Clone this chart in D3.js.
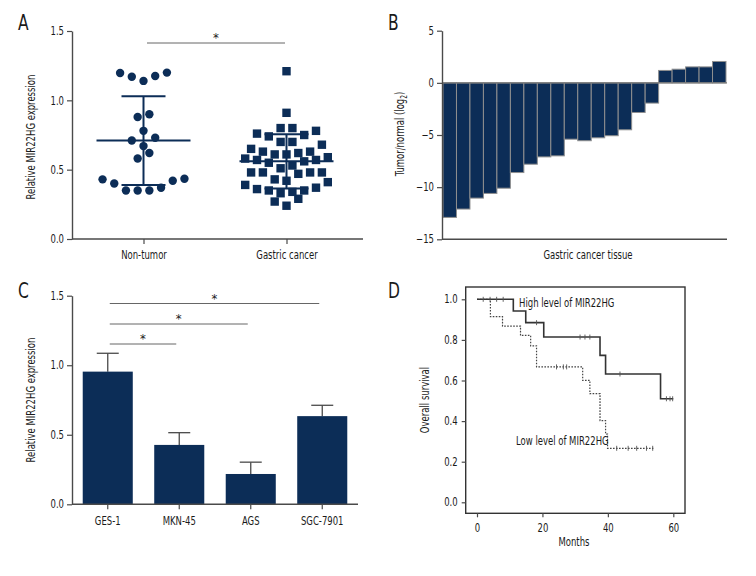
<!DOCTYPE html>
<html>
<head>
<meta charset="utf-8">
<script src="https://cdn.jsdelivr.net/npm/d3@7"></script>
<style>
  body { margin: 0; background: #fff; }
  svg text { font-family: "Liberation Sans Narrow", "DejaVu Sans Condensed", "Arial Narrow", sans-serif; fill: #1a1a1a; }
</style>
</head>
<body>
<svg id="fig" width="756" height="576"></svg>
<script>
// ---- data ----
// A: scatter of relative expression
const groupNames = ['Non-tumor', 'Gastric cancer'];
const nonTumor = [1.197, 1.17, 1.14, 1.175, 1.20, 0.88, 0.90, 0.78, 0.73, 0.71, 0.67, 0.62, 0.58,
  0.435, 0.40, 0.35, 0.35, 0.35, 0.37, 0.42, 0.43];
const gastric = [1.21, 0.91, 0.80, 0.78, 0.80, 0.75, 0.74, 0.76, 0.70, 0.68, 0.70, 0.63, 0.61, 0.63,
  0.65, 0.62, 0.61, 0.59, 0.57, 0.57, 0.55, 0.56, 0.58, 0.51, 0.48, 0.48, 0.47, 0.48, 0.48, 0.53,
  0.41, 0.43, 0.42, 0.39, 0.37, 0.35, 0.34, 0.33, 0.35, 0.36, 0.29, 0.27, 0.24];
const groupMean = [0.71, 0.56];
const groupSd = [0.32, 0.195];

// B: per-tissue fold change (log2)
const foldChange = [-12.9, -12.1, -11.05, -10.6, -10.1, -8.6, -7.8, -7.1, -7.0, -5.4, -5.55, -5.27,
  -5.07, -4.5, -2.84, -1.94, 1.19, 1.31, 1.53, 1.53, 2.05];

// C: cell lines
const cellLines = ['GES-1', 'MKN-45', 'AGS', 'SGC-7901'];
const cellMean = [0.954, 0.427, 0.218, 0.634];
const cellSd = [0.132, 0.088, 0.085, 0.078];
const cellPairs = [[0, 1], [0, 2], [0, 3]];

// D: Kaplan-Meier
const highMonths = [0, 11.1, 14.9, 20.4, 37.6, 39.3, 56.1];
const highSurv = [1, 0.942, 0.885, 0.814, 0.724, 0.632, 0.51];
const highEnd = 60;
const highCensor = [1.9, 4, 6, 8, 18.2, 31.5, 33, 34.5, 43.7, 57.9, 59, 59.8];
const lowMonths = [0, 4.1, 7.8, 13.3, 16.4, 18.2, 32.3, 34.5, 37.6, 39.3, 39.9];
const lowSurv = [1, 0.915, 0.868, 0.822, 0.771, 0.667, 0.601, 0.535, 0.402, 0.336, 0.266];
const lowEnd = 53.9;
const lowCensor = [24.3, 26.4, 27.4, 42.7, 46.2, 48.8, 51.8, 53.7];

// ---- styles ----
const NAVY = '#0c2d57';
const AXIS = '#4a4a4a';
const FS = 11.5;

const svg = d3.select('#fig');
svg.append('rect').attr('width', 756).attr('height', 576).attr('fill', '#fff');

function styleAxis(g) {
  g.select('.domain').attr('stroke', AXIS).attr('stroke-width', 1.4);
  g.selectAll('.tick line').attr('stroke', AXIS).attr('stroke-width', 1.2);
  g.selectAll('.tick text').attr('font-size', FS).attr('fill', '#1a1a1a');
}

function panelLetter(t, x, y) {
  svg.append('text').attr('class', 'letter').attr('x', x).attr('y', y).attr('font-size', 21).text(t);
}

function yLabel(g, x, y, txt) {
  return g.append('text').attr('transform', `translate(${x},${y}) rotate(-90)`)
    .attr('text-anchor', 'middle').attr('font-size', FS).text(txt);
}

function sigBar(g, x1, x2, y) {
  g.append('line').attr('x1', x1).attr('x2', x2).attr('y1', y).attr('y2', y)
    .attr('stroke', '#666').attr('stroke-width', 1);
  g.append('text').attr('class', 'star').attr('x', (x1 + x2) / 2).attr('y', y - 1).attr('text-anchor', 'middle')
    .attr('font-size', 13).text('*');
}

// the original uses a very narrow face, so squeeze the installed condensed one
function condense(sel, k) {
  sel.each(function () {
    const w = this.getComputedTextLength();
    d3.select(this).attr('textLength', w * k).attr('lengthAdjust', 'spacingAndGlyphs');
  });
}

// simple graphpad-like swarm: rows by value, spread out from the centre
function swarm(values, yScale, cx, rowH, gap) {
  const pts = values.map(v => ({ v, y: yScale(v) })).sort((a, b) => b.y - a.y);
  const rows = [];
  let cur = null;
  for (const p of pts) {
    if (!cur || cur[0].y - p.y > rowH) { cur = [p]; rows.push(cur); }
    else cur.push(p);
  }
  rows.forEach(row => {
    const n = row.length;
    const slots = d3.range(n).map(i => (i - (n - 1) / 2) * gap)
      .sort((a, b) => Math.abs(a) - Math.abs(b) || a - b);
    row.forEach((p, i) => { p.x = cx + slots[i]; });
  });
  return pts;
}

// ================= A =================
panelLetter('A', 18, 30);
const gA = svg.append('g');
const yA = d3.scaleLinear().domain([0, 1.5]).range([239, 31]);
const xA = d3.scalePoint().domain(groupNames).range([72, 358]).padding(0.5);

gA.append('g').attr('transform', 'translate(72,0)')
  .call(d3.axisLeft(yA).tickValues([0, 0.5, 1, 1.5]).tickFormat(d3.format('.1f')).tickSize(5).tickSizeOuter(0))
  .call(styleAxis);
gA.append('line').attr('x1', 72).attr('x2', 363).attr('y1', yA(0)).attr('y2', yA(0))
  .attr('stroke', AXIS).attr('stroke-width', 1.4);
gA.append('g').attr('transform', `translate(0,${yA(0)})`)
  .call(d3.axisBottom(xA).tickSize(5).tickPadding(7))
  .call(g => g.select('.domain').remove())
  .call(styleAxis);
yLabel(gA, 35, 137, 'Relative MIR22HG expression');

const ntPts = swarm(nonTumor, yA, xA(groupNames[0]), 12, 11.7);
gA.selectAll('circle.nt').data(ntPts).join('circle').attr('class', 'nt')
  .attr('cx', d => d.x).attr('cy', d => d.y).attr('r', 4.2).attr('fill', NAVY);
const gcPts = swarm(gastric, yA, xA(groupNames[1]), 12, 11.8);
gA.selectAll('rect.gc').data(gcPts).join('rect').attr('class', 'gc')
  .attr('x', d => d.x - 4.2).attr('y', d => d.y - 4.2).attr('width', 8.4).attr('height', 8.4).attr('fill', NAVY);

groupNames.forEach((name, i) => {
  const cx = xA(name);
  const m = groupMean[i], s = groupSd[i];
  const eb = gA.append('g').attr('stroke', NAVY).attr('stroke-width', 2);
  eb.append('line').attr('x1', cx - 47).attr('x2', cx + 47).attr('y1', yA(m)).attr('y2', yA(m));
  eb.append('line').attr('x1', cx).attr('x2', cx).attr('y1', yA(m - s)).attr('y2', yA(m + s));
  [m - s, m + s].forEach(v => eb.append('line').attr('x1', cx - 22).attr('x2', cx + 22)
    .attr('y1', yA(v)).attr('y2', yA(v)));
});
sigBar(gA, 147, 285, 43);

// ================= B =================
panelLetter('B', 388, 30);
const gB = svg.append('g');
const yB = d3.scaleLinear().domain([-15, 5]).range([239.3, 30.7]);
const xB = d3.scaleBand().domain(d3.range(foldChange.length)).range([443, 726]).padding(0);

gB.selectAll('rect').data(foldChange).join('rect')
  .attr('x', (d, i) => xB(i)).attr('width', xB.bandwidth())
  .attr('y', d => yB(Math.max(0, d))).attr('height', d => Math.abs(yB(d) - yB(0)))
  .attr('fill', NAVY).attr('stroke', '#8f8f8f').attr('stroke-width', 1);
gB.append('line').attr('x1', 442).attr('x2', 727).attr('y1', yB(0)).attr('y2', yB(0))
  .attr('stroke', '#777').attr('stroke-width', 1.2);
gB.append('line').attr('x1', 442).attr('x2', 727).attr('y1', yB(-15)).attr('y2', yB(-15))
  .attr('stroke', AXIS).attr('stroke-width', 1.4);
gB.append('g').attr('transform', 'translate(442,0)')
  .call(d3.axisLeft(yB).tickValues([-15, -10, -5, 0, 5]).tickSize(5).tickSizeOuter(0))
  .call(styleAxis);
const lb = gB.append('text').attr('transform', 'translate(404,134) rotate(-90)')
  .attr('text-anchor', 'middle').attr('font-size', FS);
lb.append('tspan').text('Tumor/normal (log');
lb.append('tspan').attr('font-size', 8).attr('dy', 3).text('2');
lb.append('tspan').attr('dy', -3).text(')');
gB.append('text').attr('x', 588).attr('y', 259).attr('text-anchor', 'middle')
  .attr('font-size', FS).text('Gastric cancer tissue');

// ================= C =================
panelLetter('C', 18, 298);
const gC = svg.append('g');
const yC = d3.scaleLinear().domain([0, 1.5]).range([504.3, 295.7]);
const xC = d3.scaleBand().domain(cellLines).range([72, 358]).paddingInner(0.3).paddingOuter(0.15);

cellLines.forEach((c, i) => {
  const cx = xC(c) + xC.bandwidth() / 2;
  const top = yC(cellMean[i] + cellSd[i]);
  gC.append('line').attr('x1', cx).attr('x2', cx).attr('y1', yC(cellMean[i])).attr('y2', top)
    .attr('stroke', AXIS).attr('stroke-width', 1.3);
  gC.append('line').attr('x1', cx - 11).attr('x2', cx + 11).attr('y1', top).attr('y2', top)
    .attr('stroke', AXIS).attr('stroke-width', 1.3);
});
gC.selectAll('rect').data(cellMean).join('rect')
  .attr('x', (d, i) => xC(cellLines[i])).attr('width', xC.bandwidth())
  .attr('y', d => yC(d)).attr('height', d => yC(0) - yC(d)).attr('fill', NAVY);

gC.append('g').attr('transform', 'translate(72,0)')
  .call(d3.axisLeft(yC).tickValues([0, 0.5, 1, 1.5]).tickFormat(d3.format('.1f')).tickSize(5).tickSizeOuter(0))
  .call(styleAxis);
gC.append('line').attr('x1', 72).attr('x2', 358).attr('y1', yC(0)).attr('y2', yC(0))
  .attr('stroke', AXIS).attr('stroke-width', 1.4);
gC.append('g').attr('transform', `translate(0,${yC(0)})`)
  .call(d3.axisBottom(xC).tickSize(5).tickPadding(8))
  .call(g => g.select('.domain').remove())
  .call(styleAxis);
yLabel(gC, 35, 400, 'Relative MIR22HG expression');

const sigY = [344, 324, 303.5];
cellPairs.forEach(([a, b], k) => {
  const x1 = xC(cellLines[a]) + xC.bandwidth() / 2 + 2;
  const x2 = xC(cellLines[b]) + xC.bandwidth() / 2 - 3;
  sigBar(gC, x1, x2, sigY[k]);
});

// ================= D =================
panelLetter('D', 388, 298);
const gD = svg.append('g');
const xD = d3.scaleLinear().domain([0, 60]).range([477, 673.3]);
const yD = d3.scaleLinear().domain([0, 1]).range([502.3, 299.3]);
const frame = { x0: 465.7, x1: 685, y0: 287, y1: 513.3 };

gD.append('rect').attr('x', frame.x0).attr('y', frame.y0)
  .attr('width', frame.x1 - frame.x0).attr('height', frame.y1 - frame.y0)
  .attr('fill', 'none').attr('stroke', '#333').attr('stroke-width', 1.4);
gD.append('g').attr('transform', `translate(${frame.x0},0)`)
  .call(d3.axisLeft(yD).tickValues([0, 0.2, 0.4, 0.6, 0.8, 1]).tickFormat(d3.format('.1f')).tickSize(4).tickPadding(4))
  .call(g => g.select('.domain').remove())
  .call(styleAxis);
gD.append('g').attr('transform', `translate(0,${frame.y1})`)
  .call(d3.axisBottom(xD).tickValues([0, 20, 40, 60]).tickSize(4).tickPadding(7))
  .call(g => g.select('.domain').remove())
  .call(styleAxis);

function kmPoints(months, surv, end) {
  const pts = months.map((m, i) => [m, surv[i]]);
  pts.push([end, surv[surv.length - 1]]);
  return pts;
}
function survAt(months, surv, t) {
  let s = surv[0];
  months.forEach((m, i) => { if (m <= t) s = surv[i]; });
  return s;
}
const kmLine = d3.line().x(d => xD(d[0])).y(d => yD(d[1])).curve(d3.curveStepAfter);

gD.append('path').datum(kmPoints(lowMonths, lowSurv, lowEnd)).attr('d', kmLine)
  .attr('fill', 'none').attr('stroke', '#444').attr('stroke-width', 1.2).attr('stroke-dasharray', '1.6,1.4');
gD.append('path').datum(kmPoints(highMonths, highSurv, highEnd)).attr('d', kmLine)
  .attr('fill', 'none').attr('stroke', '#333').attr('stroke-width', 1.6);

gD.selectAll('line.ch').data(highCensor).join('line').attr('class', 'ch')
  .attr('x1', d => xD(d)).attr('x2', d => xD(d))
  .attr('y1', d => yD(survAt(highMonths, highSurv, d)) - 2.5)
  .attr('y2', d => yD(survAt(highMonths, highSurv, d)) + 2.5)
  .attr('stroke', '#555').attr('stroke-width', 0.9);
gD.selectAll('line.cl').data(lowCensor).join('line').attr('class', 'cl')
  .attr('x1', d => xD(d)).attr('x2', d => xD(d))
  .attr('y1', d => yD(survAt(lowMonths, lowSurv, d)) - 2.5)
  .attr('y2', d => yD(survAt(lowMonths, lowSurv, d)) + 2.5)
  .attr('stroke', '#555').attr('stroke-width', 0.9);

gD.append('text').attr('x', 519).attr('y', 307).attr('font-size', FS).text('High level of MIR22HG');
gD.append('text').attr('x', 516).attr('y', 445).attr('font-size', FS).text('Low level of MIR22HG');
yLabel(gD, 429, 400, 'Overall survival');
gD.append('text').attr('x', 574).attr('y', 546).attr('text-anchor', 'middle')
  .attr('font-size', FS).text('Months');

condense(svg.selectAll('text').filter(function () { return !this.classList.contains('star'); }), 0.82);
</script>
</body>
</html>
